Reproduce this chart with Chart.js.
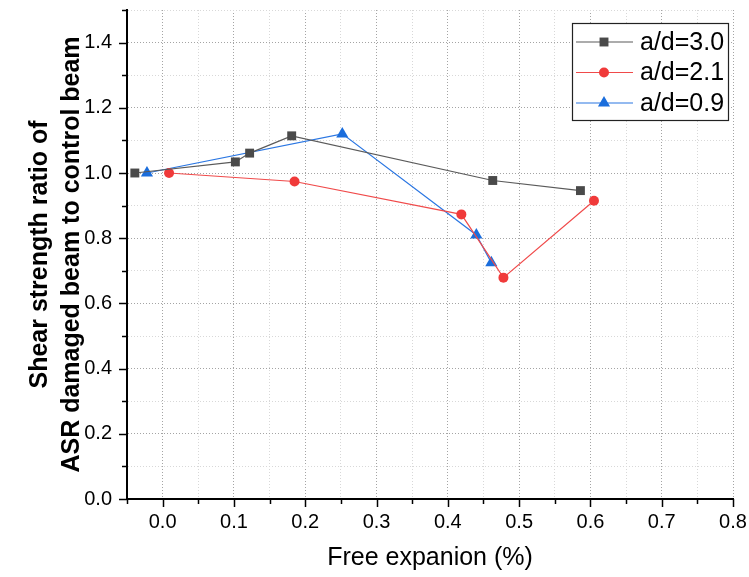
<!DOCTYPE html>
<html>
<head>
<meta charset="utf-8">
<title>Shear strength ratio vs free expansion</title>
<script src="https://cdn.jsdelivr.net/npm/chart.js@4.4.1/dist/chart.umd.min.js"></script>
<style>
    html, body { margin: 0; padding: 0; background: #fff; }
</style>
</head>
<body>
<canvas id="shearChart" width="749" height="577"></canvas>
<script>
// free expansion (%) against shear strength ratio, one group per a/d ratio
const seriesLabels = ['a/d=3.0', 'a/d=2.1', 'a/d=0.9'];

const expansionAd30 = [-0.039, 0.102, 0.122, 0.181, 0.463, 0.586];
const ratioAd30 = [1.0, 1.034, 1.061, 1.114, 0.977, 0.946];

const expansionAd21 = [0.009, 0.185, 0.419, 0.478, 0.605];
const ratioAd21 = [1.0, 0.974, 0.873, 0.679, 0.915];

const expansionAd09 = [-0.022, 0.252, 0.440, 0.461];
const ratioAd09 = [1.0, 1.12, 0.81, 0.725];

// axis ticks (major ones get a label)
const xMajorTicks = [0.0, 0.1, 0.2, 0.3, 0.4, 0.5, 0.6, 0.7, 0.8];
const xMinorTicks = [-0.05, 0.05, 0.15, 0.25, 0.35, 0.45, 0.55, 0.65, 0.75];
const yMajorTicks = [0.0, 0.2, 0.4, 0.6, 0.8, 1.0, 1.2, 1.4];
const yMinorTicks = [0.1, 0.3, 0.5, 0.7, 0.9, 1.1, 1.3, 1.5];

const fontFamily = '"Liberation Sans", Arial, Helvetica, sans-serif';

function toPoints(xs, ys) {
    return xs.map((x, i) => ({ x: x, y: ys[i] }));
}

function allTicks(major, minor) {
    return major.concat(minor).sort((a, b) => a - b).map(v => ({ value: v }));
}

const datasets = [
    {
        label: seriesLabels[0],
        data: toPoints(expansionAd30, ratioAd30),
        borderColor: '#5a5a5a',
        backgroundColor: '#4a4a4a',
        pointStyle: 'rect',
        pointRadius: 6.3,
    },
    {
        label: seriesLabels[1],
        data: toPoints(expansionAd21, ratioAd21),
        borderColor: '#f04a4a',
        backgroundColor: '#f03a3a',
        pointStyle: 'circle',
        pointRadius: 5,
    },
    {
        label: seriesLabels[2],
        data: toPoints(expansionAd09, ratioAd09),
        borderColor: '#2a76e2',
        backgroundColor: '#1a6ddc',
        pointStyle: 'triangle',
        pointRadius: 7,
    },
];

datasets.forEach(ds => {
    ds.showLine = true;
    ds.borderWidth = 1.2;
    ds.pointBorderWidth = 0;
    ds.pointHoverRadius = ds.pointRadius;
});

// short outward tick marks, longer on the labelled values
const axisTicks = {
    id: 'axisTicks',
    afterDraw(chart) {
        const { ctx, chartArea, scales } = chart;
        ctx.save();
        ctx.strokeStyle = '#000';
        ctx.lineWidth = 1.5;
        scales.x.ticks.forEach(t => {
            const px = Math.round(scales.x.getPixelForValue(t.value)) + 0.5;
            const len = xMajorTicks.includes(t.value) ? 8 : 5;
            ctx.beginPath();
            ctx.moveTo(px, chartArea.bottom);
            ctx.lineTo(px, chartArea.bottom + len);
            ctx.stroke();
        });
        scales.y.ticks.forEach(t => {
            const py = Math.round(scales.y.getPixelForValue(t.value)) + 0.5;
            const len = yMajorTicks.includes(t.value) ? 8 : 5;
            ctx.beginPath();
            ctx.moveTo(chartArea.left, py);
            ctx.lineTo(chartArea.left - len, py);
            ctx.stroke();
        });
        ctx.restore();
    }
};

// boxed legend in the upper right, line with the marker on it
const boxLegend = {
    id: 'boxLegend',
    afterDatasetsDraw(chart) {
        const ctx = chart.ctx;
        const box = { left: 572.5, top: 23.5, width: 156, height: 97 };
        ctx.save();
        ctx.fillStyle = '#fff';
        ctx.fillRect(box.left, box.top, box.width, box.height);
        ctx.strokeStyle = '#222';
        ctx.lineWidth = 1.2;
        ctx.strokeRect(box.left, box.top, box.width, box.height);

        chart.data.datasets.forEach((ds, i) => {
            const rowY = 42 + i * 30.5;
            ctx.strokeStyle = ds.borderColor;
            ctx.lineWidth = 1.2;
            ctx.beginPath();
            ctx.moveTo(576, rowY);
            ctx.lineTo(633, rowY);
            ctx.stroke();

            ctx.fillStyle = ds.backgroundColor;
            Chart.helpers.drawPoint(ctx, {
                pointStyle: ds.pointStyle,
                radius: ds.pointRadius,
                rotation: 0,
                borderWidth: 0
            }, 604, rowY);

            ctx.fillStyle = '#000';
            ctx.font = '25px ' + fontFamily;
            ctx.textAlign = 'left';
            ctx.textBaseline = 'middle';
            ctx.fillText(ds.label, 640, rowY + 1);
        });
        ctx.restore();
    }
};

const ctx = document.getElementById('shearChart').getContext('2d');

const shearChart = new Chart(ctx, {
    type: 'scatter',
    data: { datasets: datasets },
    plugins: [axisTicks, boxLegend],
    options: {
        responsive: false,
        animation: false,
        layout: {
            padding: { left: 0, top: 10, right: 16, bottom: 0 }
        },
        plugins: {
            legend: { display: false },
            tooltip: { enabled: false },
        },
        scales: {
            x: {
                type: 'linear',
                min: -0.05,
                max: 0.8,
                afterBuildTicks: scale => { scale.ticks = allTicks(xMajorTicks, xMinorTicks); },
                afterFit: scale => {
                    scale.height = 78;
                    scale.paddingLeft = 0;
                    scale.paddingRight = 0;
                },
                grid: {
                    drawTicks: false,
                    lineWidth: 1,
                    color: c => xMajorTicks.includes(c.tick && c.tick.value) ? '#a4a4a4' : '#d8d8d8',
                },
                border: { color: '#000', width: 2, dash: [1, 2] },
                ticks: {
                    autoSkip: false,
                    maxRotation: 0,
                    padding: 11,
                    color: '#000',
                    font: { family: fontFamily, size: 20 },
                    callback: value => xMajorTicks.includes(value) ? value.toFixed(1) : '',
                },
                title: {
                    display: true,
                    text: 'Free expanion (%)',
                    color: '#000',
                    font: { family: fontFamily, size: 25 },
                    padding: { top: 0, bottom: 4 },
                },
            },
            y: {
                type: 'linear',
                min: 0,
                max: 1.5,
                afterBuildTicks: scale => { scale.ticks = allTicks(yMajorTicks, yMinorTicks); },
                afterFit: scale => {
                    scale.width = 127;
                    scale.paddingTop = 0;
                    scale.paddingBottom = 0;
                },
                grid: {
                    drawTicks: false,
                    lineWidth: 1,
                    color: c => yMajorTicks.includes(c.tick && c.tick.value) ? '#a4a4a4' : '#d8d8d8',
                },
                border: { color: '#000', width: 2, dash: [1, 2] },
                ticks: {
                    autoSkip: false,
                    padding: 15,
                    color: '#000',
                    font: { family: fontFamily, size: 20 },
                    callback: value => yMajorTicks.includes(value) ? value.toFixed(1) : '',
                },
                title: {
                    display: true,
                    text: ['Shear strength ratio of', 'ASR damaged beam to control beam'],
                    color: '#000',
                    font: { family: fontFamily, size: 25, weight: 'bold', lineHeight: 1.28 },
                    padding: { top: 24, bottom: 0 },
                },
            },
        },
    },
});
</script>
</body>
</html>
